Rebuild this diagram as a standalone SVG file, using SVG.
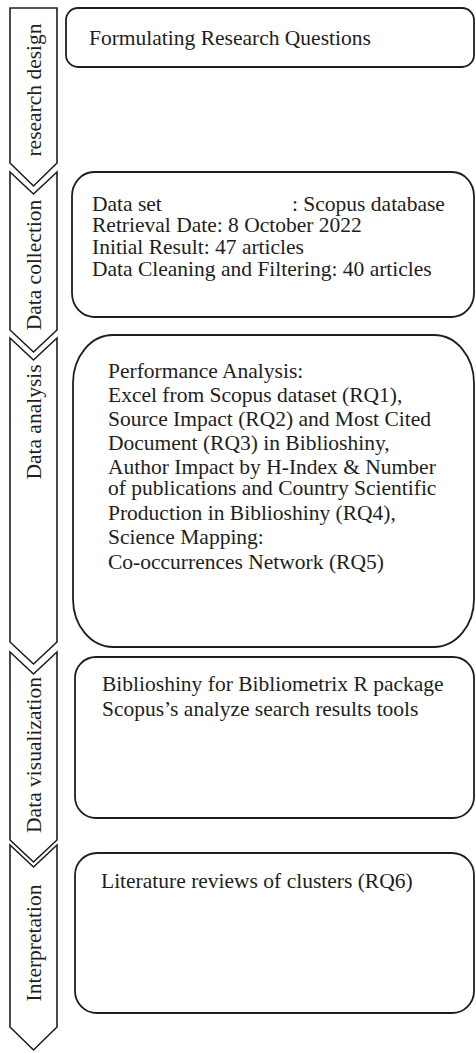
<svg xmlns="http://www.w3.org/2000/svg" width="476" height="1053" viewBox="0 0 476 1053">
  <style>
    .chev { fill: #ffffff; stroke: #1e1e1e; stroke-width: 1.6; stroke-linejoin: miter; }
    .box { fill: #ffffff; stroke: #1e1e1e; stroke-width: 1.8; }
    .t { font-family: "Liberation Serif", "Times New Roman", serif; font-size: 21.5px; fill: #1e1e1e; }
    .v { font-family: "Liberation Serif", "Times New Roman", serif; font-size: 21.5px; fill: #1e1e1e; text-anchor: middle; }
  </style>
  <rect width="476" height="1053" fill="#ffffff"/>

  <!-- Phase chevrons (left column) -->
  <g id="phase-research-design">
    <path class="chev" d="M10,8 H57 V163 L33.5,186 L10,163 Z"/>
    <text class="v" transform="translate(41,90) rotate(-90)">research design</text>
  </g>
  <g id="phase-data-collection">
    <path class="chev" d="M10,172 L33.5,194 L57,172 V330 L33.5,352 L10,330 Z"/>
    <text class="v" transform="translate(41,265) rotate(-90)">Data collection</text>
  </g>
  <g id="phase-data-analysis">
    <path class="chev" d="M10,338 L33.5,360 L57,338 V642 L33.5,664 L10,642 Z"/>
    <text class="v" transform="translate(41,422) rotate(-90)">Data analysis</text>
  </g>
  <g id="phase-data-visualization">
    <path class="chev" d="M10,652 L33.5,674 L57,652 V840 L33.5,862 L10,840 Z"/>
    <text class="v" transform="translate(41,755) rotate(-90)">Data visualization</text>
  </g>
  <g id="phase-interpretation">
    <path class="chev" d="M10,845 L33.5,867 L57,845 V1027 L33.5,1050 L10,1027 Z"/>
    <text class="v" transform="translate(41,943) rotate(-90)">Interpretation</text>
  </g>

  <!-- Detail boxes (right column) -->
  <g id="box-research-design">
    <rect class="box" x="66" y="8" width="408" height="59" rx="12" ry="12"/>
    <text class="t" x="89" y="45">Formulating Research Questions</text>
  </g>
  <g id="box-data-collection">
    <rect class="box" x="72" y="172" width="402" height="145" rx="22" ry="24"/>
    <text class="t" x="92" y="211">Data set</text>
    <text class="t" x="292" y="211">: Scopus database</text>
    <text class="t" x="92" y="232">Retrieval Date: 8 October 2022</text>
    <text class="t" x="92" y="254">Initial Result: 47 articles</text>
    <text class="t" x="92" y="276">Data Cleaning and Filtering: 40 articles</text>
  </g>
  <g id="box-data-analysis">
    <rect class="box" x="73" y="335" width="401" height="312" rx="40" ry="48"/>
    <text class="t" x="108" y="378">Performance Analysis:</text>
    <text class="t" x="108" y="402">Excel from Scopus dataset (RQ1),</text>
    <text class="t" x="108" y="426">Source Impact (RQ2) and Most Cited</text>
    <text class="t" x="108" y="450">Document (RQ3) in Biblioshiny,</text>
    <text class="t" x="108" y="474">Author Impact by H-Index &amp; Number</text>
    <text class="t" x="108" y="495">of publications and Country Scientific</text>
    <text class="t" x="108" y="520">Production in Biblioshiny (RQ4),</text>
    <text class="t" x="108" y="544">Science Mapping:</text>
    <text class="t" x="108" y="569">Co-occurrences Network (RQ5)</text>
  </g>
  <g id="box-data-visualization">
    <rect class="box" x="75" y="657" width="399" height="161" rx="21" ry="21"/>
    <text class="t" x="102" y="691">Biblioshiny for Bibliometrix R package</text>
    <text class="t" x="102" y="716">Scopus’s analyze search results tools</text>
  </g>
  <g id="box-interpretation">
    <rect class="box" x="75" y="853" width="399" height="160" rx="22" ry="22"/>
    <text class="t" x="101" y="888">Literature reviews of clusters (RQ6)</text>
  </g>

  <!-- Connectors: the stages are linked by the nested chevrons themselves -->
  <g id="connectors"/>
</svg>
